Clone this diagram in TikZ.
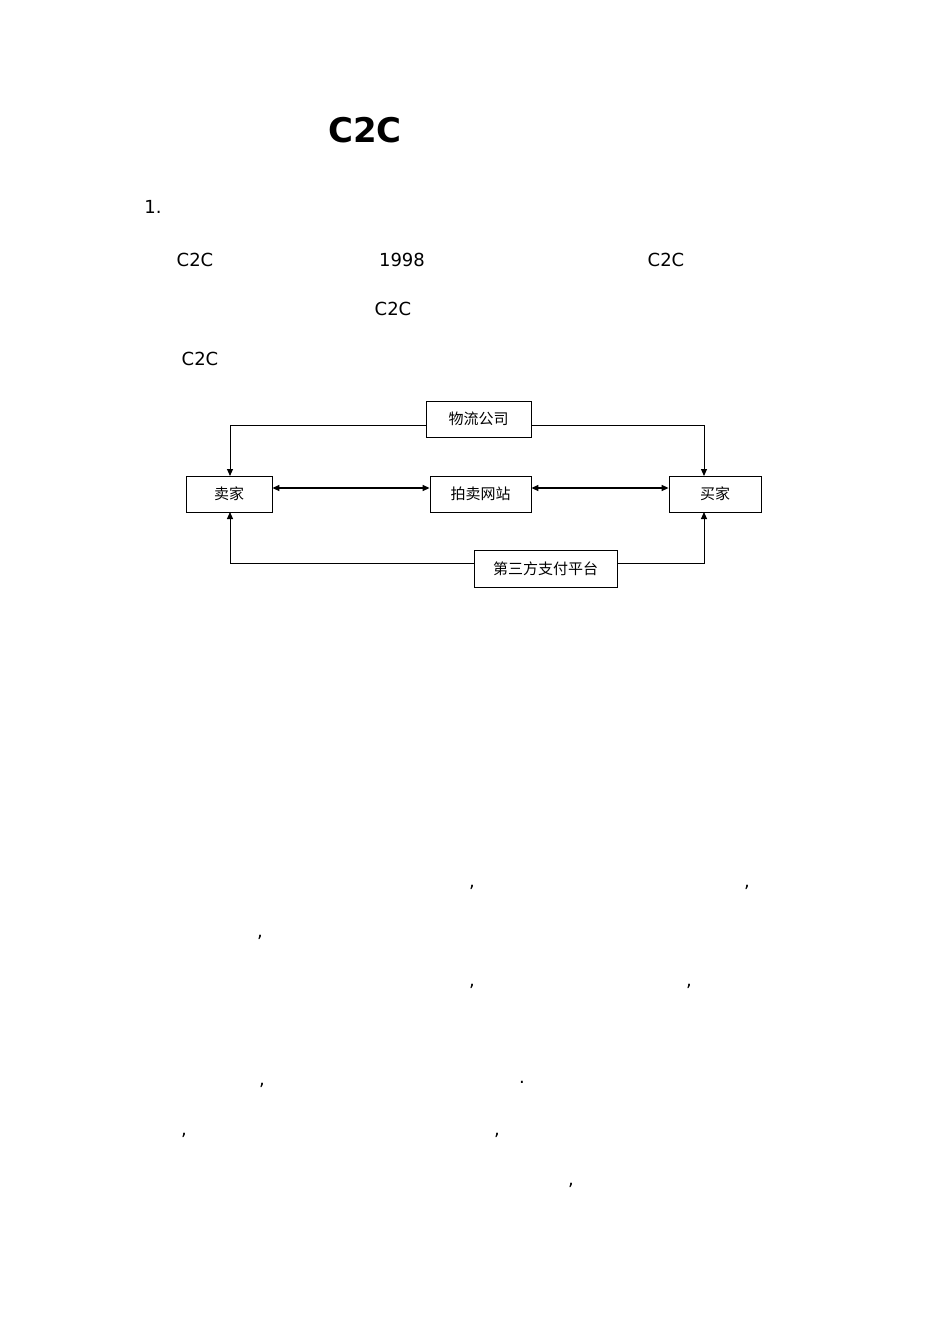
\documentclass[tikz,border=0pt]{standalone}
\usepackage{fontspec}
\setmainfont{DejaVu Sans}
\newfontfamily\cjk{Noto Sans CJK SC}
\usetikzlibrary{arrows.meta}
\begin{document}
\begin{tikzpicture}[x=1pt,y=-1pt,
  bx/.style={draw,line width=0.8pt,minimum height=36pt,inner sep=0pt,font=\cjk\fontsize{15}{15}\selectfont},
  ln/.style={line width=1pt,-{Triangle[length=7pt,width=6pt]}},
  dl/.style={line width=1.3pt,{Triangle[length=7pt,width=6pt]}-{Triangle[length=7pt,width=6pt]}},
  tx/.style={font=\fontsize{18}{18}\selectfont}]
\useasboundingbox (0,0) rectangle (950,1344);
\node[font=\bfseries\fontsize{34}{34}\selectfont] (title) at (365,130) {C2C};
\node[tx] (n1) at (153,207) {1.};
\node[tx] (t1) at (195,260) {C2C};
\node[tx] (t2) at (402,260) {1998};
\node[tx] (t3) at (666,260) {C2C};
\node[tx] (t4) at (393,309) {C2C};
\node[tx] (t5) at (200,359) {C2C};
\node[bx,minimum width=105pt] (wl) at (478.5,419) {物流公司};
\node[bx,minimum width=86pt] (mj) at (229,494) {卖家};
\node[bx,minimum width=101pt] (pm) at (480.5,494) {拍卖网站};
\node[bx,minimum width=92pt] (bj) at (715,494) {买家};
\node[bx,minimum width=143pt,minimum height=37pt] (zf) at (545.5,568.5) {第三方支付平台};
\draw[ln] (wl.west |- 0,425) -| (230,476);
\draw[ln] (wl.east |- 0,425) -| (704,476);
\draw[ln] (zf.west |- 0,563) -| (230,512);
\draw[ln] (zf.east |- 0,563) -| (704,512);
\draw[dl] (mj.east |- 0,488) -- (pm.west |- 0,488);
\draw[dl] (pm.east |- 0,488) -- (bj.west |- 0,488);
\foreach \x/\y [count=\i] in {472/887,747/887,260/937,472/986,689/986,262/1085,184/1135,497/1135,571/1185}
  \node[tx] (c\i) at (\x,\y) {,};
\node[tx] (dot) at (522,1082) {.};
\end{tikzpicture}
\end{document}
